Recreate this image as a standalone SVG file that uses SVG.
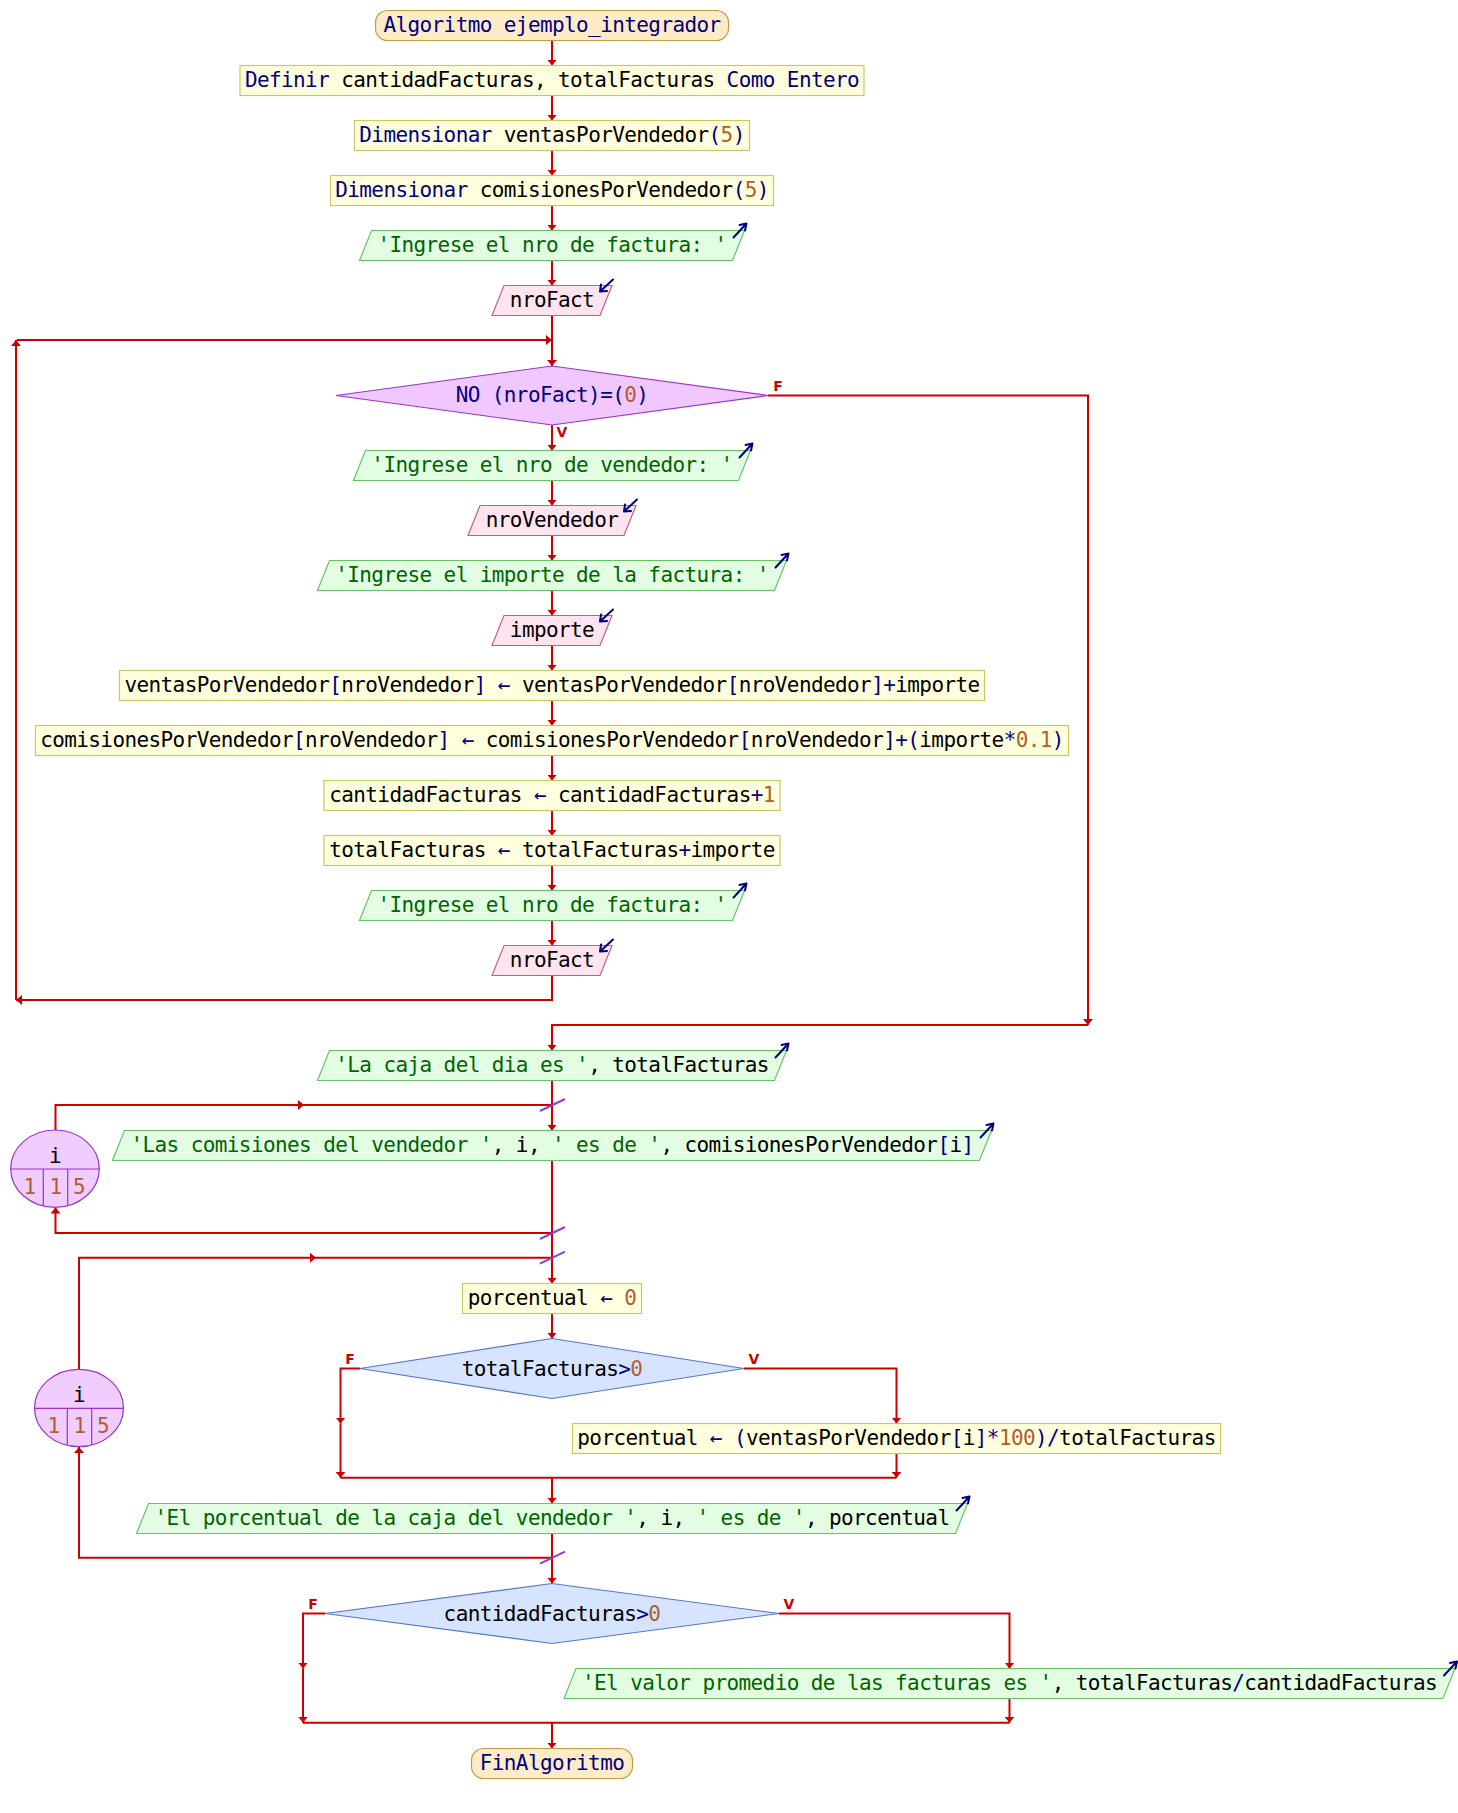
<svg xmlns="http://www.w3.org/2000/svg" xmlns:xlink="http://www.w3.org/1999/xlink" width="1458" height="1813" viewBox="0 0 1458 1813">
<style>
text{font-family:"DejaVu Sans Mono","Liberation Mono",monospace;font-size:21px;letter-spacing:-0.6px;fill:#000;white-space:pre;text-anchor:middle}
.k{fill:#000080}.n{fill:#b0602a}.s{fill:#006400}
.ar{font-size:15px}
.term{fill:#feecc8;stroke:#cc9944;stroke-width:1.2}
.proc{fill:#ffffdd;stroke:#c8c864;stroke-width:1.2}
.out{fill:#e2fde2;stroke:#66c466;stroke-width:1.2}
.in{fill:#fde4ef;stroke:#c0608a;stroke-width:1.2}
.wh{fill:#f0c8ff;stroke:#9933cc;stroke-width:1.2}
.cond{fill:#d6e4ff;stroke:#5577cc;stroke-width:1.2}
.loop{fill:#f0ccff;stroke:#9933cc;stroke-width:1.2}
.div{stroke:#9933cc;stroke-width:1.2;fill:none}
.io{fill:none;stroke:#000080;stroke-width:2;stroke-linecap:round}
.c{fill:none;stroke:#cc0000;stroke-width:2}
.a{marker-end:url(#ah)}
.sl{stroke:#8b3fd0;stroke-width:2}
.lbl{font-family:"DejaVu Sans",sans-serif;font-size:14px;letter-spacing:0;font-weight:bold;fill:#cc0000}
</style>
<defs>
<marker id="ah" viewBox="0 0 6 10" refX="6" refY="5" markerWidth="6" markerHeight="10" markerUnits="userSpaceOnUse" orient="auto"><path d="M0,0 L6,5 L0,10 z" fill="#cc0000"/></marker>
<path id="oa" class="io" d="M-11,7 L2,-7 M2,-7 L-5,-5.5 M2,-7 L0.5,0"/>
<path id="ia" class="io" d="M1,-6 L-12,6 M-12,6 L-5,5.5 M-12,6 L-11,-1"/>
</defs>
<rect width="1458" height="1813" fill="#ffffff"/>

<g id="connectors">
<path class="c a" d="M552,40.5 V65.5"/>
<path class="c a" d="M552,95.5 V120.5"/>
<path class="c a" d="M552,150.5 V175.5"/>
<path class="c a" d="M552,205.5 V230.5"/>
<path class="c a" d="M552,260.5 V285.5"/>
<path class="c a" d="M552,315.5 V366"/>
<path class="c a" d="M552,975.5 V1000 H16"/>
<path class="c a" d="M16,1000 V340"/>
<path class="c a" d="M17,340 H552"/>
<path class="c a" d="M552,425 V450.5"/>
<path class="c a" d="M552,480.5 V505.5"/>
<path class="c a" d="M552,535.5 V560.5"/>
<path class="c a" d="M552,590.5 V615.5"/>
<path class="c a" d="M552,645.5 V670.5"/>
<path class="c a" d="M552,700.5 V725.5"/>
<path class="c a" d="M552,755.5 V780.5"/>
<path class="c a" d="M552,810.5 V835.5"/>
<path class="c a" d="M552,865.5 V890.5"/>
<path class="c a" d="M552,920.5 V945.5"/>
<path class="c a" d="M768,395.5 H1088 V1025"/>
<path class="c a" d="M1088,1025 H552 V1050.5"/>
<path class="c a" d="M552,1080.5 V1130.5"/>
<path class="c a" d="M55.5,1130 V1105 H304"/>
<path class="c" d="M304,1105 H552"/>
<path class="c a" d="M552,1160.5 V1233 H55.5 V1207.5"/>
<path class="c a" d="M552,1233 V1283.5"/>
<path class="c a" d="M79,1369 V1257.7 H316"/>
<path class="c" d="M316,1257.7 H552"/>
<path class="c a" d="M552,1313.5 V1338.5"/>
<path class="c a" d="M360,1368.5 H340.5 V1423.5"/>
<path class="c a" d="M340.5,1423.5 V1477.7"/>
<path class="c a" d="M744,1368.5 H896.5 V1423.5"/>
<path class="c a" d="M896.5,1453.5 V1477.7"/>
<path class="c" d="M340.5,1477.7 H896.5"/>
<path class="c a" d="M552,1477.7 V1503.5"/>
<path class="c a" d="M552,1533.5 V1557.7 H79 V1447"/>
<path class="c a" d="M552,1557.7 V1583.5"/>
<path class="c a" d="M325,1613.5 H303 V1668.5"/>
<path class="c a" d="M303,1668.5 V1722.7"/>
<path class="c a" d="M779,1613.5 H1009.5 V1668.5"/>
<path class="c a" d="M1009.5,1698.5 V1722.7"/>
<path class="c" d="M303,1722.7 H1009.5"/>
<path class="c a" d="M552,1722.7 V1748.5"/>
<line class="sl" x1="540" y1="1111" x2="565" y2="1099"/>
<line class="sl" x1="540" y1="1239" x2="565" y2="1227"/>
<line class="sl" x1="540" y1="1263.7" x2="565" y2="1251.7"/>
<line class="sl" x1="540" y1="1563.7" x2="565" y2="1551.7"/>
<text class="lbl" x="778" y="391">F</text>
<text class="lbl" x="562" y="437">V</text>
<text class="lbl" x="350" y="1364">F</text>
<text class="lbl" x="754" y="1364">V</text>
<text class="lbl" x="313" y="1609">F</text>
<text class="lbl" x="789" y="1609">V</text>
</g>

<g id="n_inicio"><rect class="term" x="375.5" y="10.5" width="353" height="30" rx="12"/><text x="552" y="32" class="k">Algoritmo ejemplo_integrador</text></g>
<g id="n_definir"><rect class="proc" x="240" y="65.5" width="624" height="30"/><text x="552" y="87"><tspan class="k">Definir</tspan> cantidadFacturas, totalFacturas <tspan class="k">Como</tspan> <tspan class="k">Entero</tspan></text></g>
<g id="n_dim1"><rect class="proc" x="354.5" y="120.5" width="395" height="30"/><text x="552" y="142"><tspan class="k">Dimensionar</tspan> ventasPorVendedor<tspan class="k">(</tspan><tspan class="n">5</tspan><tspan class="k">)</tspan></text></g>
<g id="n_dim2"><rect class="proc" x="330.5" y="175.5" width="443" height="30"/><text x="552" y="197"><tspan class="k">Dimensionar</tspan> comisionesPorVendedor<tspan class="k">(</tspan><tspan class="n">5</tspan><tspan class="k">)</tspan></text></g>
<g id="n_esc1"><polygon class="out" points="371.5,230.5 744.5,230.5 732.5,260.5 359.5,260.5"/><use xlink:href="#oa" x="744.5" y="230.5"/><text x="552" y="252"><tspan class="s">'Ingrese el nro de factura: '</tspan></text></g>
<g id="n_leer1"><polygon class="in" points="504,285.5 612,285.5 600,315.5 492,315.5"/><use xlink:href="#ia" x="612" y="285.5"/><text x="552" y="307">nroFact</text></g>
<g id="n_mientras"><polygon class="wh" points="336,395.5 552,366 768,395.5 552,425"/><text x="552" y="402" class="k">NO (nroFact)=(<tspan class="n">0</tspan>)</text></g>
<g id="n_esc2"><polygon class="out" points="365.5,450.5 750.5,450.5 738.5,480.5 353.5,480.5"/><use xlink:href="#oa" x="750.5" y="450.5"/><text x="552" y="472"><tspan class="s">'Ingrese el nro de vendedor: '</tspan></text></g>
<g id="n_leer2"><polygon class="in" points="480,505.5 636,505.5 624,535.5 468,535.5"/><use xlink:href="#ia" x="636" y="505.5"/><text x="552" y="527">nroVendedor</text></g>
<g id="n_esc3"><polygon class="out" points="329.5,560.5 786.5,560.5 774.5,590.5 317.5,590.5"/><use xlink:href="#oa" x="786.5" y="560.5"/><text x="552" y="582"><tspan class="s">'Ingrese el importe de la factura: '</tspan></text></g>
<g id="n_leer3"><polygon class="in" points="504,615.5 612,615.5 600,645.5 492,645.5"/><use xlink:href="#ia" x="612" y="615.5"/><text x="552" y="637">importe</text></g>
<g id="n_asig1"><rect class="proc" x="119.5" y="670.5" width="865" height="30"/><text x="552" y="692">ventasPorVendedor<tspan class="k">[</tspan>nroVendedor<tspan class="k">]</tspan> <tspan class="k">←</tspan> ventasPorVendedor<tspan class="k">[</tspan>nroVendedor<tspan class="k">]+</tspan>importe</text></g>
<g id="n_asig2"><rect class="proc" x="35.5" y="725.5" width="1033" height="30"/><text x="552" y="747">comisionesPorVendedor<tspan class="k">[</tspan>nroVendedor<tspan class="k">]</tspan> <tspan class="k">←</tspan> comisionesPorVendedor<tspan class="k">[</tspan>nroVendedor<tspan class="k">]+(</tspan>importe<tspan class="k">*</tspan><tspan class="n">0.1</tspan><tspan class="k">)</tspan></text></g>
<g id="n_asig3"><rect class="proc" x="324" y="780.5" width="456" height="30"/><text x="552" y="802">cantidadFacturas <tspan class="k">←</tspan> cantidadFacturas<tspan class="k">+</tspan><tspan class="n">1</tspan></text></g>
<g id="n_asig4"><rect class="proc" x="324" y="835.5" width="456" height="30"/><text x="552" y="857">totalFacturas <tspan class="k">←</tspan> totalFacturas<tspan class="k">+</tspan>importe</text></g>
<g id="n_esc4"><polygon class="out" points="371.5,890.5 744.5,890.5 732.5,920.5 359.5,920.5"/><use xlink:href="#oa" x="744.5" y="890.5"/><text x="552" y="912"><tspan class="s">'Ingrese el nro de factura: '</tspan></text></g>
<g id="n_leer4"><polygon class="in" points="504,945.5 612,945.5 600,975.5 492,975.5"/><use xlink:href="#ia" x="612" y="945.5"/><text x="552" y="967">nroFact</text></g>
<g id="n_esc5"><polygon class="out" points="329.5,1050.5 786.5,1050.5 774.5,1080.5 317.5,1080.5"/><use xlink:href="#oa" x="786.5" y="1050.5"/><text x="552" y="1072"><tspan class="s">'La caja del dia es '</tspan>, totalFacturas</text></g>
<g id="n_para1"><ellipse class="loop" cx="55" cy="1168.7" rx="44.3" ry="38.7"/><path class="div" d="M10.7,1169 H99.3 M43.3,1169 V1206 M67.7,1169 V1205.8"/><text x="55" y="1163">i</text><text class="n" x="29.5" y="1194">1</text><text class="n" x="55.5" y="1194">1</text><text class="n" x="79" y="1194">5</text></g>
<g id="n_esc6"><polygon class="out" points="124.5,1130.5 991.5,1130.5 979.5,1160.5 112.5,1160.5"/><use xlink:href="#oa" x="991.5" y="1130.5"/><text x="552" y="1152"><tspan class="s">'Las comisiones del vendedor '</tspan>, i, <tspan class="s">' es de '</tspan>, comisionesPorVendedor<tspan class="k">[</tspan>i<tspan class="k">]</tspan></text></g>
<g id="n_para2"><ellipse class="loop" cx="79" cy="1408" rx="44.5" ry="38.7"/><path class="div" d="M34.5,1408.3 H123.5 M67.3,1408.3 V1445.3 M91.7,1408.3 V1445.1"/><text x="79" y="1402.3">i</text><text class="n" x="53.5" y="1433.3">1</text><text class="n" x="79.5" y="1433.3">1</text><text class="n" x="103" y="1433.3">5</text></g>
<g id="n_asig5"><rect class="proc" x="462.5" y="1283.5" width="179" height="30"/><text x="552" y="1305">porcentual <tspan class="k">←</tspan> <tspan class="n">0</tspan></text></g>
<g id="n_si1"><polygon class="cond" points="360,1368.5 552,1338.5 744,1368.5 552,1398.5"/><text x="552" y="1375.5">totalFacturas<tspan class="k">&gt;</tspan><tspan class="n">0</tspan></text></g>
<g id="n_asig6"><rect class="proc" x="572.5" y="1423.5" width="648" height="30"/><text x="896.5" y="1445">porcentual <tspan class="k">←</tspan> <tspan class="k">(</tspan>ventasPorVendedor<tspan class="k">[</tspan>i<tspan class="k">]*</tspan><tspan class="n">100</tspan><tspan class="k">)/</tspan>totalFacturas</text></g>
<g id="n_esc7"><polygon class="out" points="148.5,1503.5 967.5,1503.5 955.5,1533.5 136.5,1533.5"/><use xlink:href="#oa" x="967.5" y="1503.5"/><text x="552" y="1525"><tspan class="s">'El porcentual de la caja del vendedor '</tspan>, i, <tspan class="s">' es de '</tspan>, porcentual</text></g>
<g id="n_si2"><polygon class="cond" points="325,1613.5 552,1583.5 779,1613.5 552,1643.5"/><text x="552" y="1620.5">cantidadFacturas<tspan class="k">&gt;</tspan><tspan class="n">0</tspan></text></g>
<g id="n_esc8"><polygon class="out" points="576,1668.5 1455,1668.5 1443,1698.5 564,1698.5"/><use xlink:href="#oa" x="1455" y="1668.5"/><text x="1009.5" y="1690"><tspan class="s">'El valor promedio de las facturas es '</tspan>, totalFacturas<tspan class="k">/</tspan>cantidadFacturas</text></g>
<g id="n_fin"><rect class="term" x="471.5" y="1748.5" width="161" height="30" rx="12"/><text x="552" y="1770"><tspan class="k">FinAlgoritmo</tspan></text></g>
</svg>
